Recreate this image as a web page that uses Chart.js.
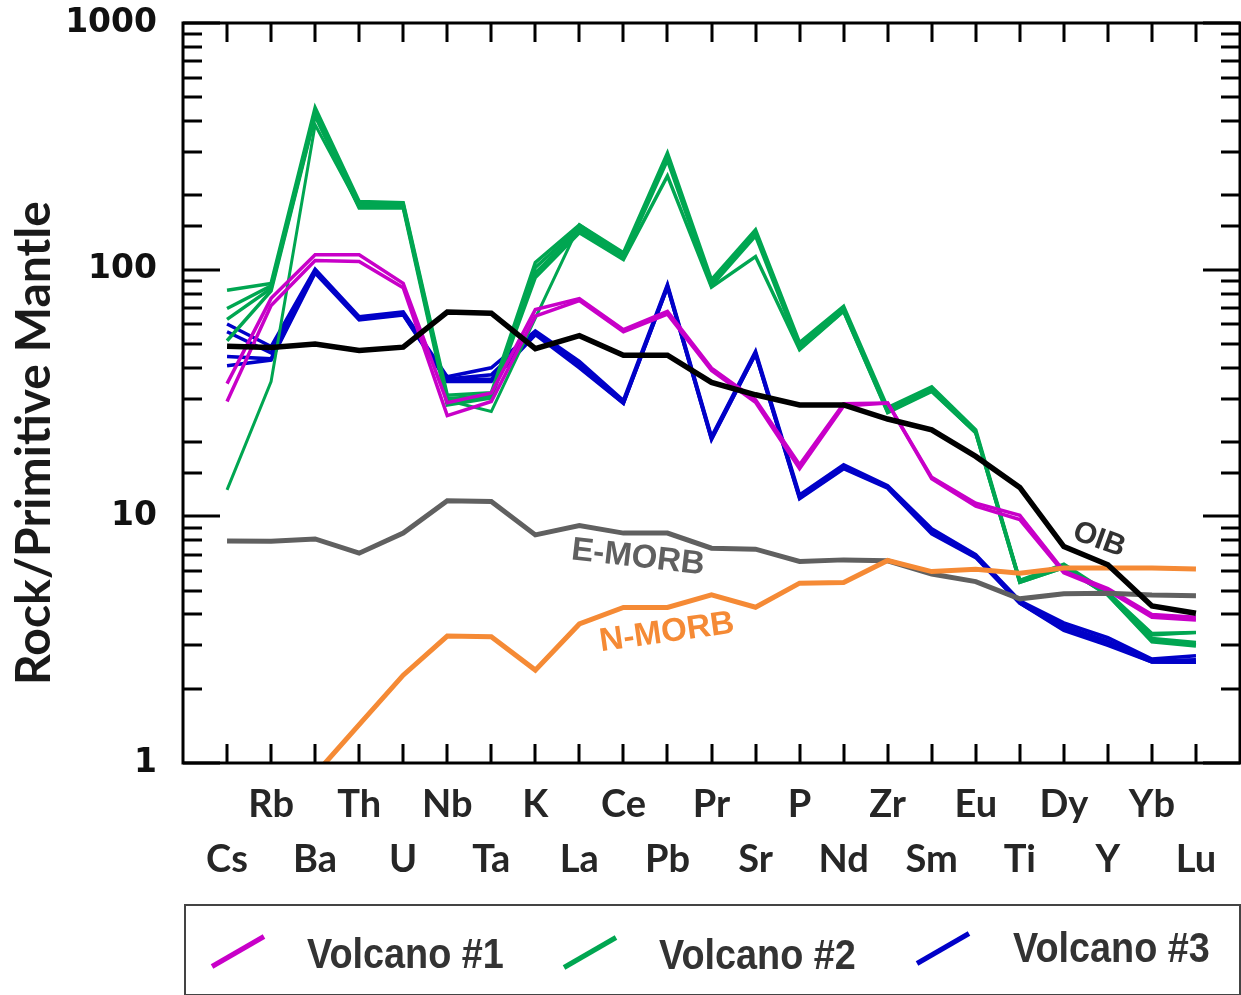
<!DOCTYPE html>
<html>
<head>
<meta charset="utf-8">
<script src="https://cdn.jsdelivr.net/npm/chart.js@4.4.1/dist/chart.umd.min.js"></script>
<style>
html,body{margin:0;padding:0;background:#fff;}
#wrap{position:relative;width:1241px;height:995px;overflow:hidden;background:#fff;}
#cbox{position:absolute;left:0;top:0;width:1241px;height:905px;}
#legend{position:absolute;left:184px;top:904px;width:1053px;height:88px;border:2px solid #444;box-sizing:content-box;}
#legend .mk{position:absolute;width:60px;height:5px;transform:rotate(-30deg);}
#legend .lt{position:absolute;font-family:"Liberation Sans Narrow","Liberation Sans",Arial,sans-serif;font-weight:bold;font-size:42px;line-height:42px;color:#333;white-space:nowrap;transform:scaleX(0.9);transform-origin:0 50%;}
</style>
</head>
<body>
<div id="wrap">
  <div id="cbox"><canvas id="chart"></canvas></div>
  <div id="legend">
    <span class="mk" style="left:22px;top:43px;background:#c800c8"></span>
    <span class="lt" style="left:121px;top:27px">Volcano #1</span>
    <span class="mk" style="left:374px;top:44px;background:#00a651"></span>
    <span class="lt" style="left:473px;top:28px">Volcano #2</span>
    <span class="mk" style="left:727px;top:40px;background:#0000c8"></span>
    <span class="lt" style="left:827px;top:21px">Volcano #3</span>
  </div>
</div>
<script>
// ---- categories ----
const elements = ['Cs','Rb','Ba','Th','U','Nb','Ta','K','La','Ce','Pb','Pr','Sr','P','Nd','Zr','Sm','Eu','Ti','Dy','Y','Yb','Lu'];
const yTickLabels = [1, 10, 100, 1000];

// ---- reference compositions ----
const oib   = [48.9, 48.4, 50, 47, 48.5, 67.3, 66.6, 47.8, 54, 45, 45, 34.9, 31.1, 28.3, 28.3, 24.8, 22.4, 17.5, 13.1, 7.54, 6.36, 4.33, 4.05];
const emorb = [7.95, 7.93, 8.1, 7.09, 8.55, 11.56, 11.48, 8.41, 9.18, 8.55, 8.55, 7.43, 7.36, 6.56, 6.66, 6.6, 5.84, 5.44, 4.63, 4.85, 4.88, 4.8, 4.77];
const nmorb = [null, null, 0.9, 1.43, 2.27, 3.27, 3.25, 2.38, 3.66, 4.27, 4.27, 4.8, 4.28, 5.36, 5.39, 6.62, 5.97, 6.1, 5.88, 6.17, 6.17, 6.17, 6.12];

// ---- Volcano #1 samples ----
const v1a = [34.5, 76.5, 115, 115, 88, 28.9, 31.6, 68.9, 76.3, 57.1, 67.8, 39.9, 29.7, 16.2, 28.6, 28.8, 14.4, 11.3, 10.1, 6.0, 5.1, 4.0, 3.9];
const v1b = [29.2, 71.5, 109, 108, 84.5, 25.6, 29.2, 64.8, 75, 56, 66, 39, 29, 15.6, 28, 28.8, 14.2, 11.0, 9.7, 5.9, 5.0, 3.9, 3.8];

// ---- Volcano #2 samples ----
const v2a = [82.5, 88, 454, 189, 187, 31, 31.7, 107, 152, 117, 297, 91, 145, 50.6, 71, 27.6, 33.5, 22.4, 5.5, 6.4, 4.9, 3.35, 3.38];
const v2b = [69.6, 86, 440, 184, 184, 30, 31, 102, 148, 114, 285, 88, 140, 49, 69, 27, 33, 22, 5.45, 6.3, 4.85, 3.2, 3.08];
const v2c = [62.9, 84, 425, 180, 181, 29.2, 30.5, 97, 145, 112, 278, 86, 137, 48, 68, 26.5, 32.3, 21.8, 5.4, 6.2, 4.8, 3.15, 3.02];
const v2d = [51.5, 82, 420, 178, 178, 28.3, 30.2, 93, 141, 110, 240, 85, 113, 47.4, 67.8, 26.3, 32.1, 21.8, 5.4, 6.2, 4.8, 3.1, 2.98];
const v2e = [12.8, 35.2, 387, 180, 180, 29.5, 26.6, 63.6, 152, 115, 290, 88, 140, 49, 69, 27, 33, 22, 5.5, 6.3, 4.85, 3.3, 3.38];

// ---- Volcano #3 samples ----
const v3a = [60.2, 48.8, 100.5, 64.5, 67.5, 36.8, 40, 56.5, 42.5, 29.5, 87, 21, 46.6, 12.2, 16.2, 13.3, 8.9, 7.0, 4.55, 3.7, 3.22, 2.64, 2.72];
const v3b = [56, 46, 99, 63.5, 66.5, 36, 37.5, 55.5, 41.5, 29, 86, 20.8, 46, 12.0, 15.9, 13.2, 8.7, 6.9, 4.5, 3.6, 3.12, 2.6, 2.62];
const v3c = [44.5, 43.5, 98, 63, 66, 35.5, 36, 55, 40.5, 28.8, 85, 20.6, 45.5, 11.9, 15.7, 13.1, 8.6, 6.85, 4.45, 3.5, 3.05, 2.57, 2.56];
const v3d = [40.8, 43, 97, 62.5, 65.5, 35.2, 35.2, 54.5, 40, 28.7, 85, 20.5, 45.5, 11.8, 15.6, 13.0, 8.5, 6.8, 4.45, 3.45, 3.0, 2.57, 2.56];

// ---- annotation label anchors (data coordinates: element index, value) ----
const annLabels = ['OIB', 'E-MORB', 'N-MORB'];
const annX = [19.8, 9.33, 9.99];
const annY = [8.03, 6.79, 3.37];

const toPts = arr => arr.map((v, i) => ({x: i, y: v}));
const C1 = '#c800c8', C2 = '#00a651', C3 = '#0000c8';

function ds(label, arr, color, w) {
  return {label, data: toPts(arr), borderColor: color, backgroundColor: color,
          borderWidth: w, pointRadius: 0, tension: 0, fill: false, spanGaps: false};
}

const datasets = [
  ds('OIB', oib, '#000000', 5.5),
  ds('N-MORB', nmorb, '#f58a35', 5),
  ds('E-MORB', emorb, '#606060', 5),
  ds('Volcano #1', v1a, C1, 3.5),
  ds('Volcano #1', v1b, C1, 3.5),
  ds('Volcano #2', v2a, C2, 3.5),
  ds('Volcano #2', v2b, C2, 3.5),
  ds('Volcano #2', v2c, C2, 3.5),
  ds('Volcano #2', v2d, C2, 3.5),
  ds('Volcano #2', v2e, C2, 3),
  ds('Volcano #3', v3a, C3, 3.5),
  ds('Volcano #3', v3b, C3, 3.5),
  ds('Volcano #3', v3c, C3, 3.5),
  ds('Volcano #3', v3d, C3, 3.5)
];

const isDecade = v => Math.abs(Math.log10(v) - Math.round(Math.log10(v))) < 1e-9;

const framePlugin = {
  id: 'frame',
  afterDatasetsDraw(chart) {
    const ctx = chart.ctx, a = chart.chartArea;
    const xs = chart.scales.x, ys = chart.scales.y;
    ctx.save();
    ctx.strokeStyle = '#000';
    ctx.lineWidth = 3;
    ctx.lineCap = 'butt';
    ctx.beginPath();
    elements.forEach((e, i) => {
      const px = Math.round(xs.getPixelForValue(i));
      ctx.moveTo(px, a.top); ctx.lineTo(px, a.top + 19);
      ctx.moveTo(px, a.bottom); ctx.lineTo(px, a.bottom - 19);
    });
    ys.ticks.forEach(t => {
      const py = Math.round(ys.getPixelForValue(t.value));
      const len = isDecade(t.value) ? 37 : 19;
      ctx.moveTo(a.left, py); ctx.lineTo(a.left + len, py);
      ctx.moveTo(a.right, py); ctx.lineTo(a.right - len, py);
    });
    ctx.stroke();
    ctx.strokeRect(a.left, a.top, a.right - a.left, a.bottom - a.top);

    const styles = [
      {color: '#333333', rot: 20, size: 30},
      {color: '#606060', rot: 6.5, size: 33},
      {color: '#f58a35', rot: -8, size: 33}
    ];
    annLabels.forEach((txt, k) => {
      const s = styles[k];
      ctx.save();
      ctx.translate(xs.getPixelForValue(annX[k]), ys.getPixelForValue(annY[k]));
      ctx.rotate(s.rot * Math.PI / 180);
      ctx.font = 'bold ' + s.size + 'px "Liberation Sans", Arial, sans-serif';
      ctx.fillStyle = s.color;
      ctx.textAlign = 'center';
      ctx.textBaseline = 'middle';
      ctx.fillText(txt, 0, 0);
      ctx.restore();
    });

    ctx.save();
    ctx.translate(35, 443);
    ctx.rotate(-Math.PI / 2);
    ctx.font = 'bold 48px Lato, "Open Sans", sans-serif';
    ctx.fillStyle = '#1a1a1a';
    ctx.textAlign = 'center';
    ctx.textBaseline = 'middle';
    ctx.fillText('Rock/Primitive Mantle', 0, 0);
    ctx.restore();
    ctx.restore();
  }
};

new Chart(document.getElementById('chart'), {
  type: 'line',
  data: {datasets},
  plugins: [framePlugin],
  options: {
    responsive: true,
    maintainAspectRatio: false,
    animation: false,
    events: [],
    layout: {padding: {top: 23, right: 1, bottom: 0, left: 0}},
    plugins: {legend: {display: false}, tooltip: {enabled: false}},
    scales: {
      x: {
        type: 'linear',
        min: -1, max: 23,
        afterFit(s) { s.height = 142; s.paddingLeft = 0; s.paddingRight = 0; s.paddingTop = 0; s.paddingBottom = 0; },
        grid: {display: false, drawTicks: false},
        border: {display: false},
        ticks: {
          stepSize: 1, maxTicksLimit: 40, autoSkip: false, maxRotation: 0, minRotation: 0,
          padding: 14,
          color: '#262626',
          font: {family: 'Lato, "Open Sans", sans-serif', weight: 'bold', size: 38, lineHeight: '55px'},
          callback(v) {
            const i = Math.round(v);
            if (i < 0 || i >= elements.length) return '';
            return i % 2 === 1 ? [elements[i], ''] : ['', elements[i]];
          }
        }
      },
      y: {
        type: 'logarithmic',
        min: 1, max: 1000,
        afterFit(s) { s.width = 183; s.paddingTop = 0; s.paddingBottom = 0; s.paddingLeft = 0; s.paddingRight = 0; },
        grid: {display: false, drawTicks: false},
        border: {display: false},
        ticks: {
          autoSkip: false,
          padding: 26,
          color: '#111',
          font: {family: '"DejaVu Sans", sans-serif', weight: 'bold', size: 33},
          callback(v) { return (isDecade(v) && yTickLabels.includes(Math.round(v))) ? String(Math.round(v)) : ''; }
        }
      }
    }
  }
});
</script>
</body>
</html>
